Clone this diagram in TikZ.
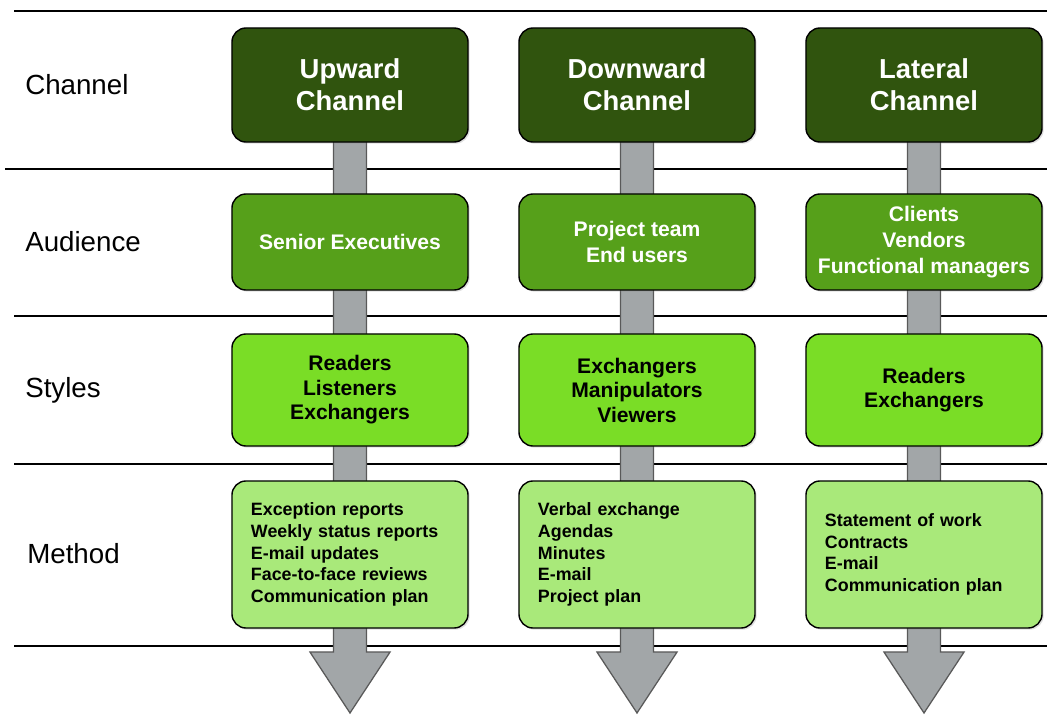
\documentclass[tikz,border=0pt]{standalone}
\usepackage{fontspec}
\setmainfont{Liberation Sans}
\usepackage{tikz}
\usetikzlibrary{calc, shadows}
\definecolor{chanGreen}{RGB}{48,84,14}
\definecolor{audGreen}{RGB}{86,160,26}
\definecolor{styGreen}{RGB}{122,221,38}
\definecolor{methGreen}{RGB}{169,233,122}
\definecolor{shaftGray}{RGB}{162,166,168}
\tikzstyle{rowlabel} = [anchor=west, inner sep=0pt, font=\fontsize{19.7}{23}\selectfont]
\tikzstyle{box} = [rectangle, rounded corners=10pt, minimum width=5.9cm, draw=black, line width=1pt, align=center, drop shadow={opacity=0.25, shadow xshift=1.2pt, shadow yshift=-1.2pt}]
\tikzstyle{channel} = [box, minimum height=2.85cm, fill=chanGreen, text=white, font=\fontsize{19.5}{22.7}\selectfont\bfseries]
\tikzstyle{audience} = [box, minimum height=2.4cm, fill=audGreen, text=white, font=\fontsize{15}{18.4}\selectfont\bfseries]
\tikzstyle{styles} = [box, minimum height=2.8cm, fill=styGreen, font=\fontsize{15}{17.4}\selectfont\bfseries]
\tikzstyle{method} = [box, minimum height=3.675cm, fill=methGreen, text width=4.95cm, align=left, inner sep=0pt, font=\fontsize{12.7}{15.4}\selectfont\bfseries]
\tikzstyle{rule} = [line width=1.3pt, black]
\tikzstyle{flow} = [fill=shaftGray, draw=black!65, line width=0.9pt, line join=miter]
\pgfdeclarelayer{bg}
\pgfsetlayers{bg,main}

\begin{document}
\begin{tikzpicture}[x=0.025cm, y=-0.025cm]
\useasboundingbox (0,0) rectangle (1047,715);

\node (lblChannel) [rowlabel] at (25,85) {Channel};
\node (lblAudience) [rowlabel] at (25,242) {Audience};
\node (lblStyles) [rowlabel] at (25,390) {Styles};
\node (lblMethod) [rowlabel] at (27,554) {Method};

\node (up) [channel] at (350,85) {Upward\\Channel};
\node (down) [channel] at (637,85) {Downward\\Channel};
\node (lat) [channel] at (924,85) {Lateral\\Channel};

\node (upAud) [audience] at (350,242) {Senior Executives};
\node (downAud) [audience] at (637,242) {Project team\\End users};
\node (latAud) [audience] at (924,242) {Clients\\Vendors\\Functional managers};

\node (upSty) [styles] at (350,390) {Readers\\Listeners\\Exchangers};
\node (downSty) [styles] at (637,390) {Exchangers\\Manipulators\\Viewers};
\node (latSty) [styles] at (924,390) {Readers\\Exchangers};

\node (upMeth) [method] at (350,554.5) {Exception reports\\Weekly status reports\\E-mail updates\\Face-to-face reviews\\Communication plan};
\node (downMeth) [method] at (637,554.5) {Verbal exchange\\Agendas\\Minutes\\E-mail\\Project plan};
\node (latMeth) [method] at (924,554.5) {Statement of work\\Contracts\\E-mail\\Communication plan};

\coordinate (up-tip) at (350,713);
\coordinate (down-tip) at (637,713);
\coordinate (lat-tip) at (924,713);

\begin{pgfonlayer}{bg}
\foreach \x/\y in {14/11, 5/169, 14/316, 14/464, 14/646}
  \draw [rule] (\x,\y) -- (1047,\y);
\foreach \c in {up,down,lat}
  \draw [flow] let \p1=(\c.center), \p2=(\c-tip) in
    (\x1-11.7pt,\y1) -- (\x1-11.7pt,\y2+43.4pt) -- (\x1-28.5pt,\y2+43.4pt) -- (\p2)
    -- (\x1+28.5pt,\y2+43.4pt) -- (\x1+11.7pt,\y2+43.4pt) -- (\x1+11.7pt,\y1) -- cycle;
\end{pgfonlayer}

\end{tikzpicture}
\end{document}
